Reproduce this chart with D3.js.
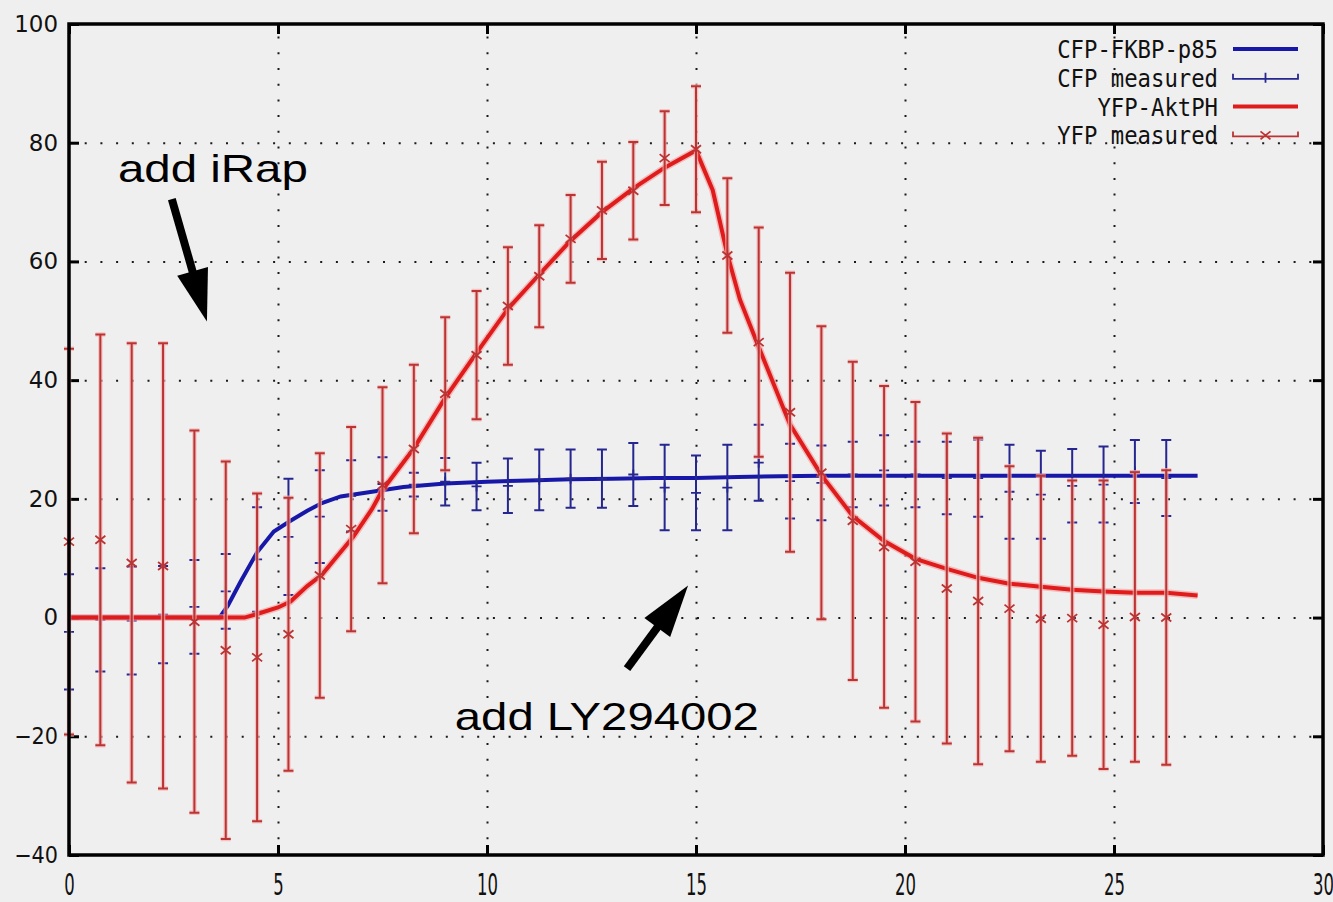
<!DOCTYPE html>
<html>
<head>
<meta charset="utf-8">
<script src="https://cdn.jsdelivr.net/npm/d3@7"></script>
<style>
  body { margin: 0; background: #efefef; }
  svg { display: block; }
  .grid line { stroke: #1a1a1a; stroke-width: 2; stroke-dasharray: 2, 13.7; }
  .axis line { stroke: #000; stroke-width: 3; }
  .axis text { fill: #111; }
</style>
</head>
<body>
<div id="chart"></div>
<script>
// measurement times (min)
const times = [0, 0.75, 1.5, 2.25, 3, 3.75, 4.5, 5.25, 6, 6.75, 7.5, 8.25, 9, 9.75, 10.5, 11.25,
  12, 12.75, 13.5, 14.25, 15, 15.75, 16.5, 17.25, 18, 18.75, 19.5, 20.25, 21, 21.75, 22.5,
  23.25, 24, 24.75, 25.5, 26.25];

// CFP measured, mean and error
const cfpMean = [-2.4, -0.4, -0.5, 0.5, 1.8, 4.4, 9.8, 13.6, 17.0, 20.5, 22.5, 22.4, 22.9, 22.1,
  22.2, 23.2, 23.4, 23.4, 24.1, 21.9, 21.0, 21.9, 26.1, 23.0, 22.7, 24.1, 24.8, 24.1, 23.5,
  23.5, 21.2, 20.7, 22.2, 22.4, 24.6, 23.5];
const cfpErr = [9.7, 8.7, 9.1, 8.2, 7.9, 6.3, 8.8, 9.8, 7.8, 6.0, 4.5, 2.0, 4.0, 4.0, 4.6, 5.1,
  4.9, 4.9, 5.3, 7.2, 6.3, 7.2, 6.4, 6.3, 6.3, 5.5, 5.9, 5.5, 6.1, 6.5, 7.9, 7.4, 6.2, 6.4,
  5.3, 6.4];

// YFP measured, mean and error
const yfpMean = [12.8, 13.1, 9.2, 8.7, -0.7, -5.5, -6.7, -2.8, 7.1, 14.9, 22.3, 28.4, 37.7, 44.2,
  52.5, 57.5, 63.8, 68.6, 71.9, 77.4, 78.9, 61.0, 46.4, 34.6, 24.4, 16.3, 11.9, 9.4, 4.9, 2.8,
  1.5, -0.2, -0.1, -1.2, 0.1, 0.0];
const yfpErr = [32.5, 34.6, 37.0, 37.5, 32.2, 31.8, 27.6, 23.0, 20.6, 17.2, 16.5, 14.2, 12.9, 10.8,
  9.9, 8.6, 7.4, 8.2, 8.2, 7.9, 10.6, 13.0, 19.3, 23.5, 24.7, 26.8, 27.1, 26.9, 26.1, 27.5,
  24.0, 24.1, 23.2, 24.3, 24.4, 24.8];

// model curves
const cfpModelX = [0, 3.6, 3.8, 4.1, 4.5, 4.9, 5.3, 5.7, 6.05, 6.5, 7.25, 8, 9, 10, 11, 12, 13,
  14, 15, 16, 17, 18, 20, 22, 24, 27];
const cfpModelY = [0, 0, 2.0, 6.0, 11.0, 14.5, 16.3, 18.0, 19.3, 20.4, 21.2, 22.0, 22.6, 22.9,
  23.1, 23.3, 23.4, 23.5, 23.5, 23.7, 23.8, 23.9, 23.9, 23.9, 23.9, 23.9];
const yfpModelX = [0, 4.2, 4.5, 5, 5.3, 5.7, 6.05, 6.4, 6.8, 7.25, 7.5, 8.25, 9, 9.75, 10.5, 11.25,
  12, 12.75, 13.5, 14.25, 15, 15.4, 15.75, 16.05, 16.5, 17.25, 18, 18.75, 19.5, 20.25, 21,
  21.75, 22.5, 23.25, 24, 24.75, 25.5, 26.25, 27];
const yfpModelY = [0, 0, 0.6, 1.7, 2.7, 5.3, 7.2, 10.2, 13.6, 18.3, 21.5, 28.5, 37.0, 44.6, 52.0,
  57.8, 63.5, 68.3, 72.3, 75.8, 78.7, 72.0, 61.2, 53.6, 45.6, 32.5, 24.0, 17.1, 12.9, 9.9,
  8.2, 6.7, 5.7, 5.2, 4.7, 4.4, 4.2, 4.2, 3.7];

const xTicks = [0, 5, 10, 15, 20, 25, 30];
const yTicks = [-40, -20, 0, 20, 40, 60, 80, 100];
const legendLabels = ["CFP-FKBP-p85", "CFP measured", "YFP-AktPH", "YFP measured"];

// annotation text and arrows, in data units
const annotations = [
  { text: "add iRap", textAt: [1.17, 73.4], from: [2.46, 70.5], to: [3.30, 49.9], textWidth: 190 },
  { text: "add LY294002", textAt: [9.23, -18.9], from: [13.35, -8.6], to: [14.81, 5.4], textWidth: 304 }
];

class TimeCourse {
  constructor(_config) {
    this.config = {
      parentElement: _config.parentElement,
      containerWidth: _config.containerWidth || 1333,
      containerHeight: _config.containerHeight || 902,
      margin: _config.margin || { top: 24, right: 10, bottom: 47, left: 69 },
      blue: "#1818a8",
      blueBar: "#262690",
      red: "#e01b1b",
      redBar: "#bb3333",
      capHalf: 5
    };
    this.initVis();
  }

  initVis() {
    let vis = this;
    vis.width = vis.config.containerWidth - vis.config.margin.left - vis.config.margin.right;
    vis.height = vis.config.containerHeight - vis.config.margin.top - vis.config.margin.bottom;

    vis.svg = d3.select(vis.config.parentElement)
      .append("svg")
      .attr("width", vis.config.containerWidth)
      .attr("height", vis.config.containerHeight);

    vis.svg.append("rect")
      .attr("width", vis.config.containerWidth)
      .attr("height", vis.config.containerHeight)
      .attr("fill", "#efefef");

    vis.chart = vis.svg.append("g")
      .attr("transform", `translate(${vis.config.margin.left},${vis.config.margin.top})`);

    vis.x = d3.scaleLinear().domain([0, 30]).range([0, vis.width]);
    vis.y = d3.scaleLinear().domain([-40, 100]).range([vis.height, 0]);

    vis.drawGrid();
    vis.drawAxes();
    vis.drawSeries();
    vis.drawLegend();
    vis.drawAnnotations();

    // frame on top
    vis.chart.append("rect")
      .attr("width", vis.width)
      .attr("height", vis.height)
      .attr("fill", "none")
      .attr("stroke", "#000")
      .attr("stroke-width", 3.5);
  }

  drawGrid() {
    let vis = this;
    vis.chart.append("g")
      .attr("class", "grid")
      .call(d3.axisLeft(vis.y).tickValues(yTicks.slice(1, -1)).tickSize(-vis.width).tickFormat(""))
      .call(g => g.select(".domain").remove());

    vis.chart.append("g")
      .attr("class", "grid")
      .attr("transform", `translate(0,${vis.height})`)
      .call(d3.axisBottom(vis.x).tickValues(xTicks.slice(1, -1)).tickSize(-vis.height).tickFormat(""))
      .call(g => g.select(".domain").remove());
  }

  drawAxes() {
    let vis = this;

    vis.chart.append("g")
      .attr("class", "axis")
      .call(d3.axisLeft(vis.y).tickValues(yTicks).tickSizeInner(-10).tickSizeOuter(0).tickPadding(11))
      .call(g => g.select(".domain").remove())
      .call(g => g.selectAll("text")
        .attr("font-family", "DejaVu Sans, sans-serif")
        .attr("font-size", 23)
        .attr("textLength", d => String(d).length * 14.6)
        .attr("lengthAdjust", "spacingAndGlyphs"));

    vis.chart.append("g")
      .attr("class", "axis")
      .attr("transform", `translate(${vis.width},0)`)
      .call(d3.axisRight(vis.y).tickValues(yTicks).tickSizeInner(-10).tickSizeOuter(0).tickFormat(""))
      .call(g => g.select(".domain").remove());

    vis.chart.append("g")
      .attr("class", "axis")
      .attr("transform", `translate(0,${vis.height})`)
      .call(d3.axisBottom(vis.x).tickValues(xTicks).tickSizeInner(-10).tickSizeOuter(0).tickPadding(19))
      .call(g => g.select(".domain").remove())
      .call(g => g.selectAll("text")
        .attr("font-family", "DejaVu Sans, sans-serif")
        .attr("font-size", 30)
        .attr("textLength", d => String(d).length * 10.5)
        .attr("lengthAdjust", "spacingAndGlyphs"));

    vis.chart.append("g")
      .attr("class", "axis")
      .call(d3.axisTop(vis.x).tickValues(xTicks).tickSizeInner(-10).tickSizeOuter(0).tickFormat(""))
      .call(g => g.select(".domain").remove());
  }

  drawSeries() {
    let vis = this;
    const c = vis.config;
    const line = d3.line().x(d => vis.x(d[0])).y(d => vis.y(d[1]));

    const cfpModel = d3.zip(cfpModelX, cfpModelY);
    const yfpModel = d3.zip(yfpModelX, yfpModelY);
    const cfpPts = times.map((t, i) => ({ t: t, m: cfpMean[i], e: cfpErr[i] }));
    const yfpPts = times.map((t, i) => ({ t: t, m: yfpMean[i], e: yfpErr[i] }));

    // CFP model
    vis.chart.append("path")
      .datum(cfpModel)
      .attr("d", line)
      .attr("fill", "none")
      .attr("stroke", c.blue)
      .attr("stroke-width", 4);

    // CFP measured
    vis.errorBars(cfpPts, c.blueBar, null, "plus");

    // YFP model, with soft halo
    vis.chart.append("path")
      .datum(yfpModel)
      .attr("d", line)
      .attr("fill", "none")
      .attr("stroke", "#f29a9a")
      .attr("stroke-opacity", 0.6)
      .attr("stroke-width", 7);
    vis.chart.append("path")
      .datum(yfpModel)
      .attr("d", line)
      .attr("fill", "none")
      .attr("stroke", c.red)
      .attr("stroke-width", 4);

    // YFP measured
    vis.errorBars(yfpPts, c.redBar, "#f4b4b4", "cross");
  }

  errorBars(pts, color, halo, marker) {
    let vis = this;
    const h = vis.config.capHalf;
    const groups = vis.chart.append("g")
      .selectAll("g")
      .data(pts)
      .join("g")
      .attr("transform", d => `translate(${vis.x(d.t)},0)`);

    const pathFor = d => {
      const top = vis.y(d.m + d.e), bot = vis.y(d.m - d.e);
      return `M0,${top}V${bot}M${-h},${top}H${h}M${-h},${bot}H${h}`;
    };

    if (halo) {
      groups.append("path")
        .attr("d", pathFor)
        .attr("fill", "none")
        .attr("stroke", halo)
        .attr("stroke-opacity", 0.7)
        .attr("stroke-width", 4.5);
    }
    groups.append("path")
      .attr("d", pathFor)
      .attr("fill", "none")
      .attr("stroke", color)
      .attr("stroke-width", 2);

    groups.append("path")
      .attr("d", d => {
        const ym = vis.y(d.m);
        return marker === "plus"
          ? `M${-h},${ym}H${h}M0,${ym - h}V${ym + h}`
          : `M${-h},${ym - 4}L${h},${ym + 4}M${-h},${ym + 4}L${h},${ym - 4}`;
      })
      .attr("fill", "none")
      .attr("stroke", color)
      .attr("stroke-width", 1.8);
  }

  drawLegend() {
    let vis = this;
    const c = vis.config;
    const textX = 1218 - c.margin.left;
    const x0 = 1233 - c.margin.left, x1 = 1298 - c.margin.left;
    const legend = vis.chart.append("g").attr("transform", `translate(0,${49 - c.margin.top})`);

    const rows = legend.selectAll("g")
      .data(legendLabels)
      .join("g")
      .attr("transform", (d, i) => `translate(0,${i * 28.8})`);

    rows.append("text")
      .attr("x", textX)
      .attr("dy", "0.36em")
      .attr("text-anchor", "end")
      .attr("font-family", "DejaVu Sans Mono, monospace")
      .attr("font-size", 25)
      .attr("fill", "#111")
      .attr("textLength", d => d.length * 13.4)
      .attr("lengthAdjust", "spacingAndGlyphs")
      .text(d => d);

    const mid = (x0 + x1) / 2;
    rows.append("path")
      .attr("d", (d, i) => i % 2 === 0
        ? `M${x0},0H${x1}`
        : `M${x0},-4V1H${x1}V-4` + (i === 1
          ? `M${mid},-5V5`
          : `M${mid - 5},-4L${mid + 5},4M${mid - 5},4L${mid + 5},-4`))
      .attr("fill", "none")
      .attr("stroke", (d, i) => i < 2 ? (i === 0 ? c.blue : c.blueBar) : (i === 2 ? c.red : c.redBar))
      .attr("stroke-width", (d, i) => i % 2 === 0 ? 4 : 1.8);
  }

  drawAnnotations() {
    let vis = this;
    const g = vis.chart.append("g");

    annotations.forEach(a => {
      g.append("text")
        .attr("x", vis.x(a.textAt[0]))
        .attr("y", vis.y(a.textAt[1]))
        .attr("font-family", "Liberation Sans, Arial, sans-serif")
        .attr("font-size", 39)
        .attr("fill", "#000")
        .attr("textLength", a.textWidth)
        .attr("lengthAdjust", "spacingAndGlyphs")
        .text(a.text);

      const fx = vis.x(a.from[0]), fy = vis.y(a.from[1]);
      const tx = vis.x(a.to[0]), ty = vis.y(a.to[1]);
      const len = Math.hypot(tx - fx, ty - fy);
      const ux = (tx - fx) / len, uy = (ty - fy) / len;
      const headLen = 52, headHalf = 16;
      const bx = tx - ux * headLen, by = ty - uy * headLen;

      g.append("line")
        .attr("x1", fx).attr("y1", fy)
        .attr("x2", bx + ux * 2).attr("y2", by + uy * 2)
        .attr("stroke", "#000")
        .attr("stroke-width", 8);

      g.append("path")
        .attr("d", `M${tx},${ty}L${bx - uy * headHalf},${by + ux * headHalf}L${bx + uy * headHalf},${by - ux * headHalf}Z`)
        .attr("fill", "#000");
    });
  }
}

new TimeCourse({ parentElement: "#chart" });
</script>
</body>
</html>
